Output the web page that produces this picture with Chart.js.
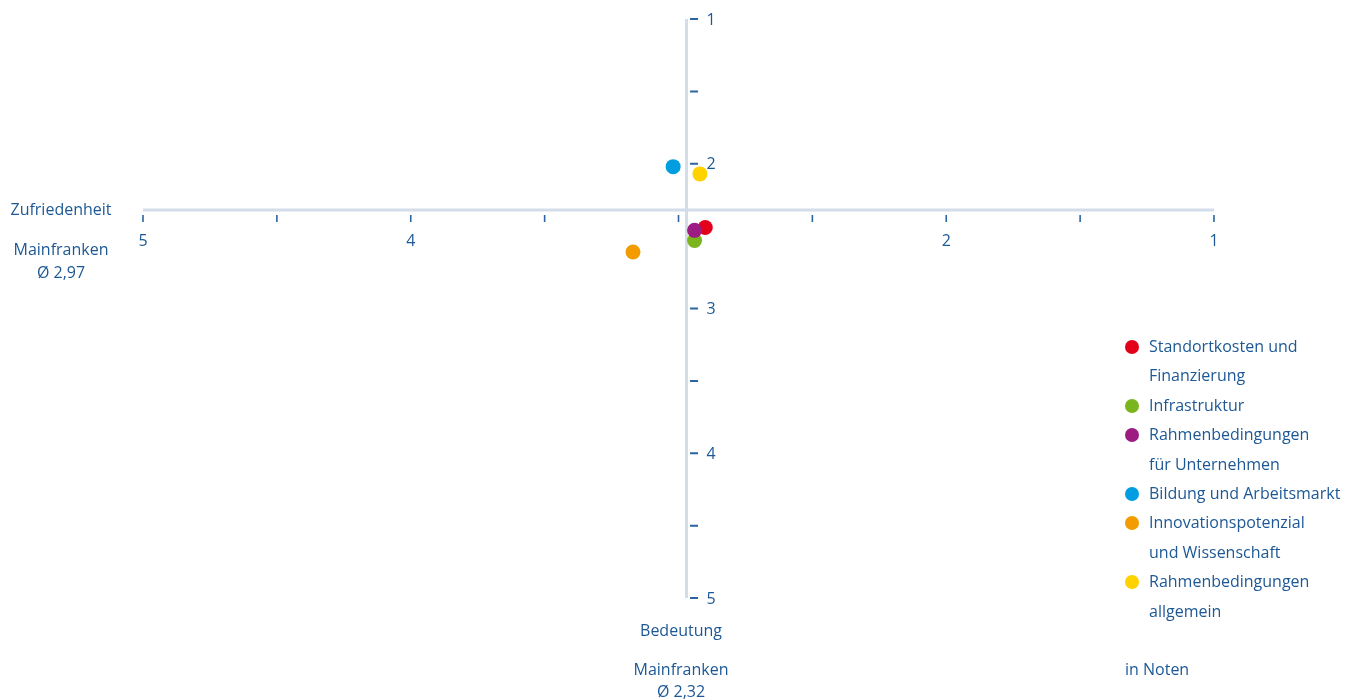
<!DOCTYPE html>
<html lang="de">
<head>
<meta charset="utf-8">
<title>Standortfaktoren Mainfranken – Zufriedenheit und Bedeutung</title>
<script src="https://cdn.jsdelivr.net/npm/chart.js@4.4.1/dist/chart.umd.min.js"></script>
<style>
  html, body { margin: 0; padding: 0; background: #ffffff; }
  #wrap { position: relative; width: 1357px; height: 700px; overflow: hidden;
          font-family: "Open Sans", sans-serif; font-size: 16px; color: #1d5895; }
  #chart { position: absolute; left: 0; top: 0; }
  .t { position: absolute; white-space: nowrap; line-height: 1; transform: translate(-50%, -50%); }
  .tl { position: absolute; white-space: nowrap; line-height: 1; transform: translateY(-50%); }
  #legend { position: absolute; left: 1125px; top: 332px; }
  .item { position: relative; padding-left: 24px; line-height: 29.4px; white-space: nowrap; }
  .dot { position: absolute; left: 0; top: 7.7px; width: 14px; height: 14px; border-radius: 50%; }
</style>
</head>
<body>
<div id="wrap">
  <canvas id="chart" width="1357" height="700"></canvas>
  <div id="legend"></div>
</div>
<script>
// Standortfaktoren (Schulnoten 1–5)
const categories = [
  ['Standortkosten und', 'Finanzierung'],
  ['Infrastruktur'],
  ['Rahmenbedingungen', 'für Unternehmen'],
  ['Bildung und Arbeitsmarkt'],
  ['Innovationspotenzial', 'und Wissenschaft'],
  ['Rahmenbedingungen', 'allgemein']
];
const zufriedenheit = [2.90, 2.94, 2.94, 3.02, 3.17, 2.92];
const bedeutung     = [2.44, 2.53, 2.46, 2.02, 2.61, 2.07];
const colors = ['#e2001a', '#7ab51d', '#9c1c82', '#009ee0', '#f39c00', '#ffd200'];

// Durchschnitt Mainfranken (Lage der Achsenkreuzung)
const avgZufriedenheit = 2.97;
const avgBedeutung = 2.32;

// Notenskala und beschriftete Ticks
const noteMin = 1;
const noteMax = 5;
const xTickLabels = [5, 4, 2, 1];
const yTickLabels = [1, 2, 3, 4, 5];

const TEXT = '#1d5895';
const AXIS = '#d3ddea';
const TICK = '#2b64a0';
const FONT = '"Open Sans", sans-serif';

const fmt = v => v.toFixed(2).replace('.', ',');

// Achsenkreuz mit Teilstrichen und Notenbeschriftung
const crossAxes = {
  id: 'crossAxes',
  beforeDatasetsDraw(chart) {
    const { ctx, scales: { x, y } } = chart;
    const x0 = x.getPixelForValue(avgZufriedenheit);
    const y0 = y.getPixelForValue(avgBedeutung);
    ctx.save();
    ctx.strokeStyle = AXIS;
    ctx.lineWidth = 3;
    ctx.beginPath();
    ctx.moveTo(x.getPixelForValue(noteMax), y0);
    ctx.lineTo(x.getPixelForValue(noteMin), y0);
    ctx.moveTo(x0, y.getPixelForValue(noteMin));
    ctx.lineTo(x0, y.getPixelForValue(noteMax));
    ctx.stroke();

    ctx.strokeStyle = TICK;
    ctx.lineWidth = 1.6;
    ctx.beginPath();
    x.ticks.forEach(t => {
      const px = x.getPixelForValue(t.value);
      ctx.moveTo(px, y0 + 5);
      ctx.lineTo(px, y0 + 12);
    });
    ctx.stroke();
    ctx.lineWidth = 2;
    ctx.beginPath();
    y.ticks.forEach(t => {
      const py = y.getPixelForValue(t.value);
      ctx.moveTo(x0 + 3.5, py);
      ctx.lineTo(x0 + 11.5, py);
    });
    ctx.stroke();

    ctx.fillStyle = TEXT;
    ctx.font = '16px ' + FONT;
    ctx.textBaseline = 'middle';
    ctx.textAlign = 'center';
    xTickLabels.forEach(v => ctx.fillText(String(v), x.getPixelForValue(v), y0 + 31));
    ctx.textAlign = 'left';
    yTickLabels.forEach(v => ctx.fillText(String(v), x0 + 20, y.getPixelForValue(v) + 1));
    ctx.restore();
  }
};

const chart = new Chart(document.getElementById('chart'), {
  type: 'scatter',
  data: {
    datasets: [{
      label: 'Standortfaktoren',
      data: zufriedenheit.map((v, i) => ({ x: v, y: bedeutung[i] })),
      pointBackgroundColor: colors,
      pointBorderWidth: 0,
      pointRadius: 7.5,
      pointHoverRadius: 7.5
    }]
  },
  options: {
    responsive: false,
    animation: false,
    events: [],
    layout: { padding: { left: 143, right: 143, top: 19, bottom: 102 } },
    plugins: { legend: { display: false }, tooltip: { enabled: false } },
    scales: {
      x: { type: 'linear', reverse: true, min: noteMin, max: noteMax, display: false, ticks: { stepSize: 0.5 } },
      y: { type: 'linear', reverse: true, min: noteMin, max: noteMax, display: false, ticks: { stepSize: 0.5 } }
    }
  },
  plugins: [crossAxes]
});

// Achsentitel
const wrap = document.getElementById('wrap');
function addText(cls, text, left, top) {
  const d = document.createElement('div');
  d.className = cls;
  d.textContent = text;
  d.style.left = left + 'px';
  d.style.top = top + 'px';
  wrap.appendChild(d);
}
addText('t', 'Zufriedenheit', 61, 209);
addText('t', 'Mainfranken', 61, 249);
addText('t', 'Ø ' + fmt(avgZufriedenheit), 61, 272);
addText('t', 'Bedeutung', 681, 630);
addText('t', 'Mainfranken', 681, 669);
addText('t', 'Ø ' + fmt(avgBedeutung), 681, 691);
addText('tl', 'in Noten', 1125, 669);

// Legende
const legend = document.getElementById('legend');
categories.forEach((lines, i) => {
  const item = document.createElement('div');
  item.className = 'item';
  const dot = document.createElement('span');
  dot.className = 'dot';
  dot.style.background = colors[i];
  item.appendChild(dot);
  lines.forEach((line, j) => {
    if (j) item.appendChild(document.createElement('br'));
    item.appendChild(document.createTextNode(line));
  });
  legend.appendChild(item);
});
</script>
</body>
</html>
